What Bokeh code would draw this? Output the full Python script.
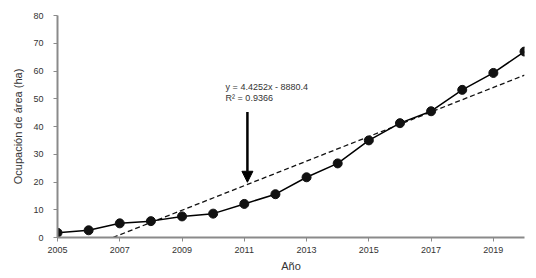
from bokeh.plotting import figure
from bokeh.models import Arrow, NormalHead, Label, FixedTicker
from bokeh.embed import file_html
from bokeh.resources import INLINE

years = [2005, 2006, 2007, 2008, 2009, 2010, 2011, 2012, 2013, 2014, 2015, 2016, 2017, 2018, 2019, 2020]
area = [1.7, 2.6, 5.1, 5.9, 7.6, 8.6, 12.1, 15.6, 21.7, 26.7, 35.0, 41.2, 45.5, 53.2, 59.3, 67.0]

slope = 4.4252
intercept = -8880.4
equation = "y = 4.4252x - 8880.4"
r2_label = "R\u00b2 = 0.9366"
x_ticks = [2005, 2007, 2009, 2011, 2013, 2015, 2017, 2019]
y_ticks = [0, 10, 20, 30, 40, 50, 60, 70, 80]
arrow_x = 2011.1
arrow_top = 45.2
arrow_tip = 19.9

FONT = "Liberation Sans"

p = figure(width=528, height=270, x_range=(2005, 2020), y_range=(0, 80),
           output_backend="svg", toolbar_location=None,
           min_border_left=57, min_border_top=15, min_border_right=4, min_border_bottom=25)
p.frame_width = 467
p.frame_height = 222
p.outline_line_color = None
p.grid.visible = False
p.background_fill_color = "white"
p.border_fill_color = "white"

for ax in (p.xaxis[0], p.yaxis[0]):
    ax.axis_line_color = "#8a8a8a"
    ax.axis_line_width = 2
    ax.major_tick_line_color = "#8a8a8a"
    ax.major_tick_line_width = 1
    ax.major_tick_out = 4
    ax.major_tick_in = 0
    ax.minor_tick_line_color = None
    ax.major_label_text_font = FONT
    ax.major_label_text_font_size = "9px"
    ax.major_label_text_color = "#333333"
    ax.axis_label_text_font = FONT
    ax.axis_label_text_font_size = "11px"
    ax.axis_label_text_font_style = "normal"
    ax.axis_label_text_color = "#333333"

p.xaxis.ticker = FixedTicker(ticks=x_ticks)
p.yaxis.ticker = FixedTicker(ticks=y_ticks)
p.xaxis.axis_label = "Año"
p.yaxis.axis_label = "Ocupación de área (ha)"
p.xaxis.major_label_standoff = 5
p.yaxis.major_label_standoff = 10
p.xaxis.axis_label_standoff = 4
p.yaxis.axis_label_standoff = 6

# trend line (from the chart's stated regression)
x0 = -intercept / slope
x1 = years[-1]
p.line([x0, x1], [slope * x0 + intercept, slope * x1 + intercept],
       line_color="#111111", line_width=1.3, line_dash="5 3")

p.line(years, area, line_color="black", line_width=1.5)
p.scatter(years, area, size=9, fill_color="#111111", line_color="#111111")

p.add_layout(Arrow(end=NormalHead(size=11, fill_color="black", line_color="black"),
                   x_start=arrow_x, y_start=arrow_top, x_end=arrow_x, y_end=arrow_tip,
                   line_color="black", line_width=2.5))

p.add_layout(Label(x=2010.4, y=52.5, text=equation, text_font=FONT,
                   text_font_size="9px", text_color="#333333"))
p.add_layout(Label(x=2010.4, y=48.5, text=r2_label, text_font=FONT,
                   text_font_size="9px", text_color="#333333"))

open("out.html", "w").write(file_html(p, INLINE))
